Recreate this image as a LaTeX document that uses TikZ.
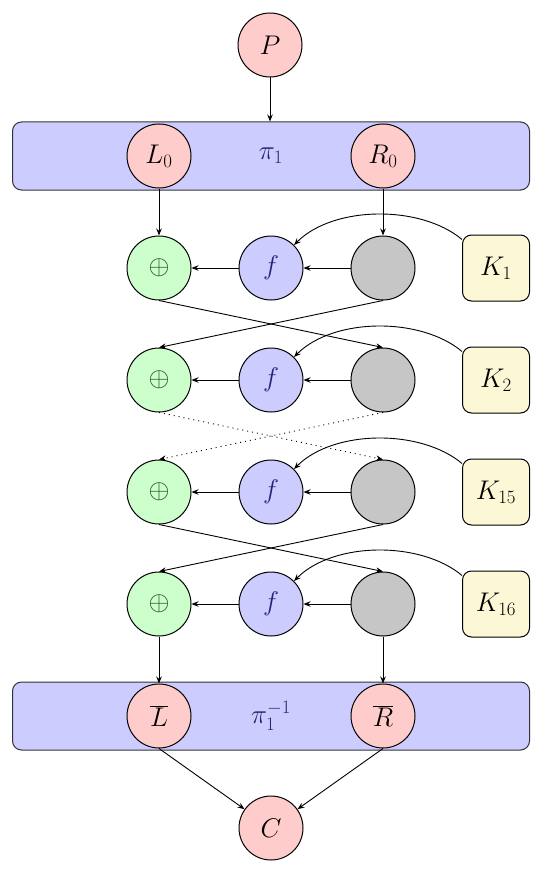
\RequirePackage{fix-cm}
\documentclass[tikz,border=0pt]{standalone}
\usetikzlibrary{arrows.meta}
\definecolor{navytext}{RGB}{35,35,115}
\definecolor{greentext}{RGB}{20,85,20}
\definecolor{keyfill}{RGB}{252,248,214}
\definecolor{greyfill}{RGB}{198,198,198}
\begin{document}
\begin{tikzpicture}[x=1pt,y=-1pt,
  font=\fontsize{27}{32}\selectfont,
  circ/.style={circle, draw, minimum size=64pt, inner sep=0pt, line width=1pt},
  pinknode/.style={circ, fill=red!20},
  xornode/.style={circ, fill=green!20, text=greentext},
  fnode/.style={circ, fill=blue!20, text=navytext},
  gnode/.style={circ, fill=greyfill},
  keynode/.style={draw, rounded corners=9pt, fill=keyfill, minimum width=67pt, minimum height=66pt, line width=1pt},
  permbox/.style={draw=black!80, rounded corners=9pt, fill=blue!20, minimum width=517pt, minimum height=68pt, line width=1pt},
  arr/.style={-{Stealth[length=7pt,width=5.5pt]}, line width=0.9pt},
  dotarr/.style={arr, dash pattern=on 1pt off 4pt}
]
\useasboundingbox (0,0) rectangle (540,872);

\node[pinknode] (P) at (270,45) {$P$};
\node[permbox] (pi) at (271,156) {};
\node[text=navytext] (pilab) at (271,156) {$\pi_1$};
\node[pinknode] (L0) at (159,156) {$L_0$};
\node[pinknode] (R0) at (383,156) {$R_0$};

\foreach \i/\y/\k in {1/268/1,2/380/2,3/492/15,4/604/16}{
  \node[xornode] (x\i) at (159,\y) {$\oplus$};
  \node[fnode] (f\i) at (271,\y) {$f$};
  \node[gnode] (g\i) at (383,\y) {};
  \node[keynode] (k\i) at (496,\y) {$K_{\k}$};
  \draw[arr] (g\i) -- (f\i);
  \draw[arr] (f\i) -- (x\i);
  \draw[arr] (k\i.140) .. controls +(140:54pt) and +(45:56pt) .. (f\i.45);
}

\node[permbox] (pinv) at (271,716) {};
\node[text=navytext] (pinvlab) at (271,716) {$\pi_1^{-1}$};
\node[pinknode] (Lb) at (159,716) {$\overline{L}$};
\node[pinknode] (Rb) at (383,716) {$\overline{R}$};
\node[pinknode] (C) at (271,828) {$C$};

\draw[arr] (P) -- (pi.north -| P);
\draw[arr] (L0) -- (x1);
\draw[arr] (R0) -- (g1);

\draw[arr] (x1.south) -- (g2.north);
\draw[arr] (g1.south) -- (x2.north);
\draw[dotarr] (x2.south) -- (g3.north);
\draw[dotarr] (g2.south) -- (x3.north);
\draw[arr] (x3.south) -- (g4.north);
\draw[arr] (g3.south) -- (x4.north);

\draw[arr] (x4) -- (Lb);
\draw[arr] (g4) -- (Rb);
\draw[arr] (Lb.south) -- (C);
\draw[arr] (Rb.south) -- (C);
\end{tikzpicture}
\end{document}
